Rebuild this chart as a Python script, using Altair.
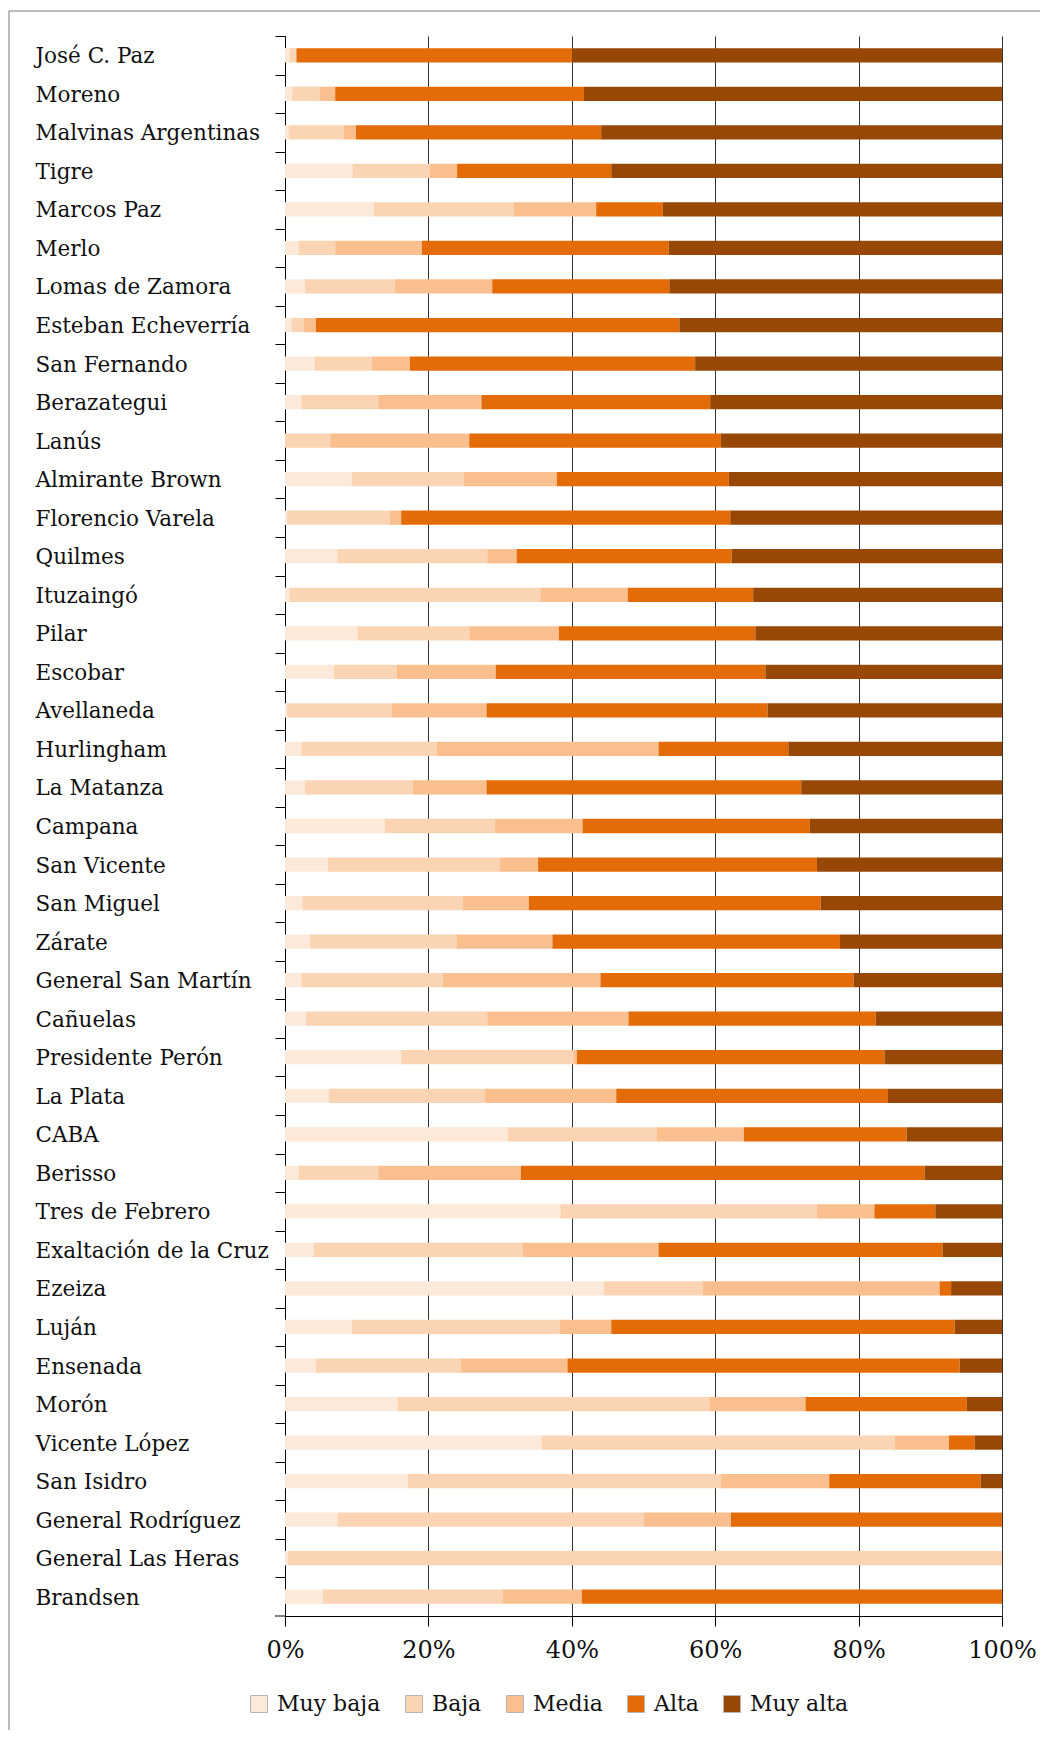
import altair as alt
import pandas as pd

categories = [
    "José C. Paz", "Moreno", "Malvinas Argentinas", "Tigre", "Marcos Paz", "Merlo",
    "Lomas de Zamora", "Esteban Echeverría", "San Fernando", "Berazategui", "Lanús",
    "Almirante Brown", "Florencio Varela", "Quilmes", "Ituzaingó", "Pilar", "Escobar",
    "Avellaneda", "Hurlingham", "La Matanza", "Campana", "San Vicente", "San Miguel",
    "Zárate", "General San Martín", "Cañuelas", "Presidente Perón", "La Plata", "CABA",
    "Berisso", "Tres de Febrero", "Exaltación de la Cruz", "Ezeiza", "Luján", "Ensenada",
    "Morón", "Vicente López", "San Isidro", "General Rodríguez", "General Las Heras",
    "Brandsen",
]

muy_baja = [0.6, 1.0, 0.5, 9.4, 12.4, 1.9, 2.8, 0.9, 4.1, 2.3, 0.0, 9.3, 0.3, 7.3, 0.6,
            10.1, 6.8, 0.3, 2.3, 2.8, 13.9, 6.0, 2.4, 3.5, 2.3, 2.9, 16.2, 6.1, 31.1, 1.9,
            38.4, 4.0, 44.5, 9.3, 4.3, 15.7, 35.8, 17.1, 7.3, 0.4, 5.3]
baja = [0.9, 3.8, 7.7, 10.8, 19.5, 5.1, 12.5, 1.7, 8.0, 10.7, 6.3, 15.6, 14.3, 20.9, 35.0,
        15.6, 8.8, 14.6, 18.9, 15.0, 15.4, 23.9, 22.4, 20.4, 19.7, 25.3, 24.0, 21.8, 20.7,
        11.1, 35.8, 29.1, 13.8, 29.0, 20.2, 43.5, 49.2, 43.7, 42.7, 99.6, 25.1]
media = [0.1, 2.2, 1.7, 3.8, 11.5, 12.1, 13.6, 1.7, 5.3, 14.4, 19.4, 13.0, 1.6, 4.1, 12.2,
         12.5, 13.8, 13.2, 30.9, 10.3, 12.2, 5.4, 9.2, 13.4, 22.0, 19.7, 0.5, 18.3, 12.2,
         19.9, 8.0, 19.0, 33.0, 7.2, 14.9, 13.4, 7.6, 15.1, 12.2, 0.0, 11.0]
alta = [38.5, 34.7, 34.2, 21.5, 9.3, 34.4, 24.7, 50.7, 39.8, 31.9, 35.1, 24.0, 45.9, 30.0,
        17.5, 27.4, 37.6, 39.2, 18.1, 43.9, 31.7, 38.9, 40.7, 40.1, 35.3, 34.5, 42.9, 37.9,
        22.7, 56.3, 8.5, 39.6, 1.6, 47.9, 54.7, 22.5, 3.6, 21.1, 37.8, 0.0, 58.6]
muy_alta = [60.0, 58.3, 55.9, 54.5, 47.3, 46.5, 46.4, 45.0, 42.8, 40.7, 39.2, 38.1, 37.9,
            37.7, 34.7, 34.4, 33.0, 32.7, 29.8, 28.0, 26.8, 25.8, 25.3, 22.6, 20.7, 17.6,
            16.4, 15.9, 13.3, 10.8, 9.3, 8.3, 7.1, 6.6, 5.9, 4.9, 3.8, 3.0, 0.0, 0.0, 0.0]

levels = ["Muy baja", "Baja", "Media", "Alta", "Muy alta"]
colors = ["#FDE9D9", "#FBD4B4", "#FABF8F", "#E36C09", "#974806"]
series = [muy_baja, baja, media, alta, muy_alta]

rows = []
for i, cat in enumerate(categories):
    for j, lvl in enumerate(levels):
        rows.append({"cat": cat, "nivel": lvl, "orden": j, "valor": series[j][i]})
df = pd.DataFrame(rows)

FONT = "DejaVu Serif"
W, H = 717, 1580
step = H / len(categories)

bars = alt.Chart(df).mark_bar().encode(
    y=alt.Y(
        "cat:N", sort=categories, title=None,
        scale=alt.Scale(paddingInner=0.63, paddingOuter=0.315),
        axis=alt.Axis(
            labelAlign="left", labelPadding=240, tickSize=10,
            tickOffset=-step / 2, labelOffset=step / 2 + 1.5,
            labelFont=FONT, labelFontSize=21.5, labelColor="#111111",
            labelLimit=330, labelBaseline="middle",
            domainColor="#000000", tickColor="#000000", grid=False,
        ),
    ),
    x=alt.X(
        "valor:Q", stack="normalize", title=None,
        scale=alt.Scale(domain=[0, 1], nice=False),
        axis=alt.Axis(
            format=".0%", values=[0, 0.2, 0.4, 0.6, 0.8, 1.0], grid=True,
            gridColor="#333333", gridWidth=1, tickSize=10, labelPadding=12,
            labelFlush=False,
            labelFont=FONT, labelFontSize=24, labelColor="#111111",
            domainColor="#000000", tickColor="#000000",
        ),
    ),
    color=alt.Color(
        "nivel:N", sort=levels,
        scale=alt.Scale(domain=levels, range=colors),
        legend=alt.Legend(
            title=None, orient="none", legendX=-37, legendY=1657,
            direction="horizontal", symbolType="square", symbolSize=289,
            symbolStrokeColor="#b5b5b5", symbolStrokeWidth=1,
            labelFont=FONT, labelFontSize=22, labelColor="#111111",
            labelOffset=7, columnPadding=22, padding=0, labelLimit=200,
        ),
    ),
    order=alt.Order("orden:Q", sort="ascending"),
)

one = pd.DataFrame({"k": [0]})
frame_top = alt.Chart(one).mark_rule(color="#a6a6a6", strokeWidth=1.5).encode(
    x=alt.value(-276), x2=alt.value(755), y=alt.value(-25)
)
frame_left = alt.Chart(one).mark_rule(color="#a6a6a6", strokeWidth=1.5).encode(
    x=alt.value(-276), y=alt.value(-25), y2=alt.value(1694)
)
last_tick = alt.Chart(one).mark_rule(color="#000000", strokeWidth=1).encode(
    x=alt.value(-10), x2=alt.value(0), y=alt.value(H)
)

chart = alt.layer(bars, frame_top, frame_left, last_tick).properties(
    width=W, height=H,
    autosize=alt.AutoSizeParams(type="none"),
    padding={"left": 277, "top": 28, "right": 39, "bottom": 114},
).configure_view(stroke=None)

chart.save("out.html", embed_options={"renderer": "svg", "actions": False})
